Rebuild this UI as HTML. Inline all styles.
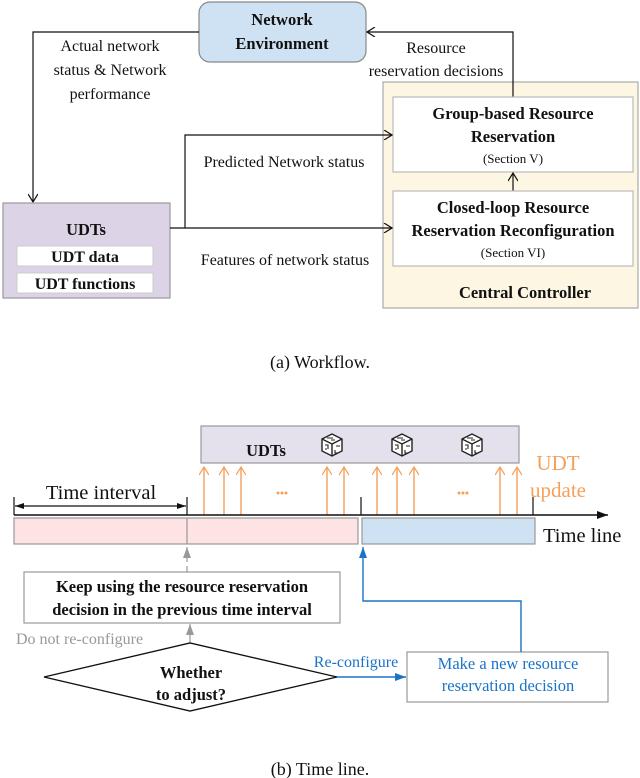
<!DOCTYPE html>
<html><head><meta charset="utf-8"><style>
html,body{margin:0;padding:0;background:#fff}
svg{display:block}
text{font-family:"Liberation Serif",serif;fill:#111}
.b{font-weight:bold}
</style></head><body>
<svg width="640" height="778" viewBox="0 0 640 778" xmlns="http://www.w3.org/2000/svg">
<defs>
<marker id="oa" markerWidth="10" markerHeight="10" refX="9" refY="5" orient="auto" markerUnits="userSpaceOnUse"><path d="M1,0 L9,5 L1,10" fill="none" stroke="#111" stroke-width="1.2"/></marker>
<marker id="or" markerWidth="10" markerHeight="10" refX="9" refY="5" orient="auto" markerUnits="userSpaceOnUse"><path d="M1,0 L9,5 L1,10" fill="none" stroke="#f5a05a" stroke-width="1.2"/></marker>
<marker id="fa" markerWidth="12" markerHeight="10" refX="11" refY="5" orient="auto" markerUnits="userSpaceOnUse"><path d="M0,1 L11,5 L0,9z" fill="#111"/></marker>
<marker id="ga" markerWidth="12" markerHeight="10" refX="11" refY="5" orient="auto" markerUnits="userSpaceOnUse"><path d="M0,1 L11,5 L0,9z" fill="#999"/></marker>
<marker id="ba" markerWidth="12" markerHeight="10" refX="11" refY="5" orient="auto" markerUnits="userSpaceOnUse"><path d="M0,1 L11,5 L0,9z" fill="#1a73c8"/></marker>
<marker id="ti" markerWidth="10" markerHeight="10" refX="9" refY="5" orient="auto-start-reverse" markerUnits="userSpaceOnUse"><path d="M0,2 L9,5 L0,8z" fill="#111"/></marker>
</defs>

<!-- (a) -->
<rect x="383" y="82" width="255" height="226" fill="#fdf6e3" stroke="#aaa" stroke-width="1.2"/>
<rect x="199" y="2" width="167" height="60" rx="11" fill="#cfe2f3" stroke="#888" stroke-width="1.2"/>
<text class="b" x="282" y="25" font-size="16.5" text-anchor="middle">Network</text>
<text class="b" x="282" y="49" font-size="16.5" text-anchor="middle">Environment</text>

<polyline points="199,32 33,32 33,202" fill="none" stroke="#111" stroke-width="1.2" marker-end="url(#oa)"/>
<polyline points="513,97 513,32 367,32" fill="none" stroke="#111" stroke-width="1.2" marker-end="url(#oa)"/>

<text x="110" y="51" font-size="16" text-anchor="middle">Actual network</text>
<text x="110" y="75" font-size="16" text-anchor="middle">status  &amp; Network</text>
<text x="110" y="99" font-size="16" text-anchor="middle">performance</text>
<text x="436" y="53" font-size="16" text-anchor="middle">Resource</text>
<text x="436" y="76" font-size="16" text-anchor="middle">reservation decisions</text>

<rect x="393" y="97" width="240" height="75" fill="#fff" stroke="#bbb" stroke-width="1.2"/>
<text class="b" x="513" y="119" font-size="16.5" text-anchor="middle">Group-based Resource</text>
<text class="b" x="513" y="142" font-size="16.5" text-anchor="middle">Reservation</text>
<text x="513" y="163" font-size="13" text-anchor="middle">(Section V)</text>
<line x1="513" y1="191" x2="513" y2="173" stroke="#111" stroke-width="1.2" marker-end="url(#oa)"/>
<rect x="393" y="191" width="240" height="75" fill="#fff" stroke="#bbb" stroke-width="1.2"/>
<text class="b" x="513" y="213" font-size="16.5" text-anchor="middle">Closed-loop Resource</text>
<text class="b" x="513" y="236" font-size="16.5" text-anchor="middle">Reservation Reconfiguration</text>
<text x="513" y="257" font-size="13" text-anchor="middle">(Section VI)</text>
<text class="b" x="525" y="298" font-size="16.5" text-anchor="middle">Central Controller</text>

<rect x="3" y="203" width="167" height="95" fill="#dcd3e6" stroke="#999" stroke-width="1.2"/>
<text class="b" x="86" y="235" font-size="16.5" text-anchor="middle">UDTs</text>
<rect x="17" y="246" width="136" height="20" fill="#fff" stroke="#ccc"/>
<text class="b" x="85" y="262" font-size="16" text-anchor="middle">UDT data</text>
<rect x="17" y="273" width="136" height="20" fill="#fff" stroke="#ccc"/>
<text class="b" x="85" y="289" font-size="16" text-anchor="middle">UDT functions</text>

<line x1="170" y1="228" x2="392" y2="228" stroke="#111" stroke-width="1.2" marker-end="url(#oa)"/>
<polyline points="185,228 185,135 392,135" fill="none" stroke="#111" stroke-width="1.2" marker-end="url(#oa)"/>
<text x="284" y="167" font-size="16" text-anchor="middle">Predicted Network status</text>
<text x="285" y="265" font-size="16" text-anchor="middle">Features of network status</text>

<text x="320" y="368" font-size="18" text-anchor="middle">(a)  Workflow.</text>

<!-- (b) -->
<rect x="201" y="426" width="318" height="37" fill="#e4e0ec" stroke="#999" stroke-width="1.2"/>
<text class="b" x="266" y="456" font-size="16.5" text-anchor="middle">UDTs</text>
<g fill="#fff" stroke="#222" stroke-width="1.4">
<g transform="translate(332,445)"><path d="M-10,-6 L0,-11 L10,-6 L10,6 L0,11 L-10,6z"/><path d="M-10,-6 L0,-1 L10,-6 M0,-1 L0,11" fill="none"/><path d="M-7,0 h3 v4 M-7,4 h2 M4,1 h4 M3,5 v3 h3 M-5,-7 h6 M-1,-5 h4" fill="none" stroke-width="1.1"/></g>
<g transform="translate(402,445)"><path d="M-10,-6 L0,-11 L10,-6 L10,6 L0,11 L-10,6z"/><path d="M-10,-6 L0,-1 L10,-6 M0,-1 L0,11" fill="none"/><path d="M-7,0 h3 v4 M-7,4 h2 M4,1 h4 M3,5 v3 h3 M-5,-7 h6 M-1,-5 h4" fill="none" stroke-width="1.1"/></g>
<g transform="translate(472,445)"><path d="M-10,-6 L0,-11 L10,-6 L10,6 L0,11 L-10,6z"/><path d="M-10,-6 L0,-1 L10,-6 M0,-1 L0,11" fill="none"/><path d="M-7,0 h3 v4 M-7,4 h2 M4,1 h4 M3,5 v3 h3 M-5,-7 h6 M-1,-5 h4" fill="none" stroke-width="1.1"/></g>
</g>
<g stroke="#f5a05a" stroke-width="1.4" marker-end="url(#or)">
<line x1="204" y1="515" x2="204" y2="467"/><line x1="224" y1="515" x2="224" y2="467"/><line x1="241" y1="515" x2="241" y2="467"/>
<line x1="327" y1="515" x2="327" y2="467"/><line x1="344" y1="515" x2="344" y2="467"/>
<line x1="377" y1="515" x2="377" y2="467"/><line x1="397" y1="515" x2="397" y2="467"/><line x1="414" y1="515" x2="414" y2="467"/>
<line x1="500" y1="515" x2="500" y2="467"/><line x1="517" y1="515" x2="517" y2="467"/>
</g>
<g fill="#f5a05a">
<circle cx="278" cy="493" r="1.5"/><circle cx="282" cy="493" r="1.5"/><circle cx="286" cy="493" r="1.5"/>
<circle cx="459" cy="493" r="1.5"/><circle cx="463" cy="493" r="1.5"/><circle cx="467" cy="493" r="1.5"/>
</g>
<text x="558" y="470" font-size="21" text-anchor="middle" style="fill:#f5a05a">UDT</text>
<text x="558" y="497" font-size="21" text-anchor="middle" style="fill:#f5a05a">update</text>

<line x1="14" y1="515" x2="608" y2="515" stroke="#111" stroke-width="1.6" marker-end="url(#fa)"/>
<g stroke="#111" stroke-width="1.2">
<line x1="14" y1="497" x2="14" y2="515"/><line x1="187" y1="497" x2="187" y2="515"/>
<line x1="361" y1="497" x2="361" y2="515"/><line x1="533" y1="497" x2="533" y2="515"/>
</g>
<line x1="15" y1="506" x2="186" y2="506" stroke="#111" stroke-width="1.2" marker-start="url(#ti)" marker-end="url(#ti)"/>
<text x="101" y="499" font-size="20.5" text-anchor="middle">Time interval</text>

<rect x="14" y="518" width="344" height="26" fill="#fde3e3" stroke="#999" stroke-width="1.2"/>
<rect x="362" y="518" width="173" height="26" fill="#cfe2f3" stroke="#999" stroke-width="1.2"/>
<line x1="187" y1="518" x2="187" y2="544" stroke="#999" stroke-width="1.2"/>
<text x="543" y="542" font-size="20.5">Time line</text>

<line x1="187" y1="572" x2="187" y2="547" stroke="#999" stroke-width="1.2" stroke-dasharray="6,4" marker-end="url(#ga)"/>
<rect x="24" y="572" width="316" height="51" fill="#fff" stroke="#999" stroke-width="1.2"/>
<text class="b" x="182" y="592" font-size="16.5" text-anchor="middle">Keep using the resource reservation</text>
<text class="b" x="182" y="615" font-size="16.5" text-anchor="middle">decision in the previous time interval</text>
<line x1="190" y1="643" x2="190" y2="624" stroke="#999" stroke-width="1.2" marker-end="url(#ga)"/>
<text x="16" y="644" font-size="16" style="fill:#999">Do not re-configure</text>

<polygon points="44,677 190,643 337,677 190,711" fill="#fff" stroke="#111" stroke-width="1.4"/>
<text class="b" x="191" y="678" font-size="16.5" text-anchor="middle">Whether</text>
<text class="b" x="191" y="700" font-size="16.5" text-anchor="middle">to adjust?</text>

<line x1="337" y1="677" x2="406" y2="677" stroke="#1a73c8" stroke-width="1.4" marker-end="url(#ba)"/>
<text x="356" y="667" font-size="16" text-anchor="middle" style="fill:#1a73c8">Re-configure</text>
<rect x="407" y="652" width="201" height="50" fill="#fff" stroke="#999" stroke-width="1.2"/>
<text x="508" y="669" font-size="16.5" text-anchor="middle" style="fill:#1a73c8">Make a new resource</text>
<text x="508" y="691" font-size="16.5" text-anchor="middle" style="fill:#1a73c8">reservation decision</text>
<polyline points="521,652 521,601 363,601 363,547" fill="none" stroke="#1a73c8" stroke-width="1.4" marker-end="url(#ba)"/>

<text x="320" y="775" font-size="18" text-anchor="middle">(b)  Time line.</text>
</svg>
</body></html>
